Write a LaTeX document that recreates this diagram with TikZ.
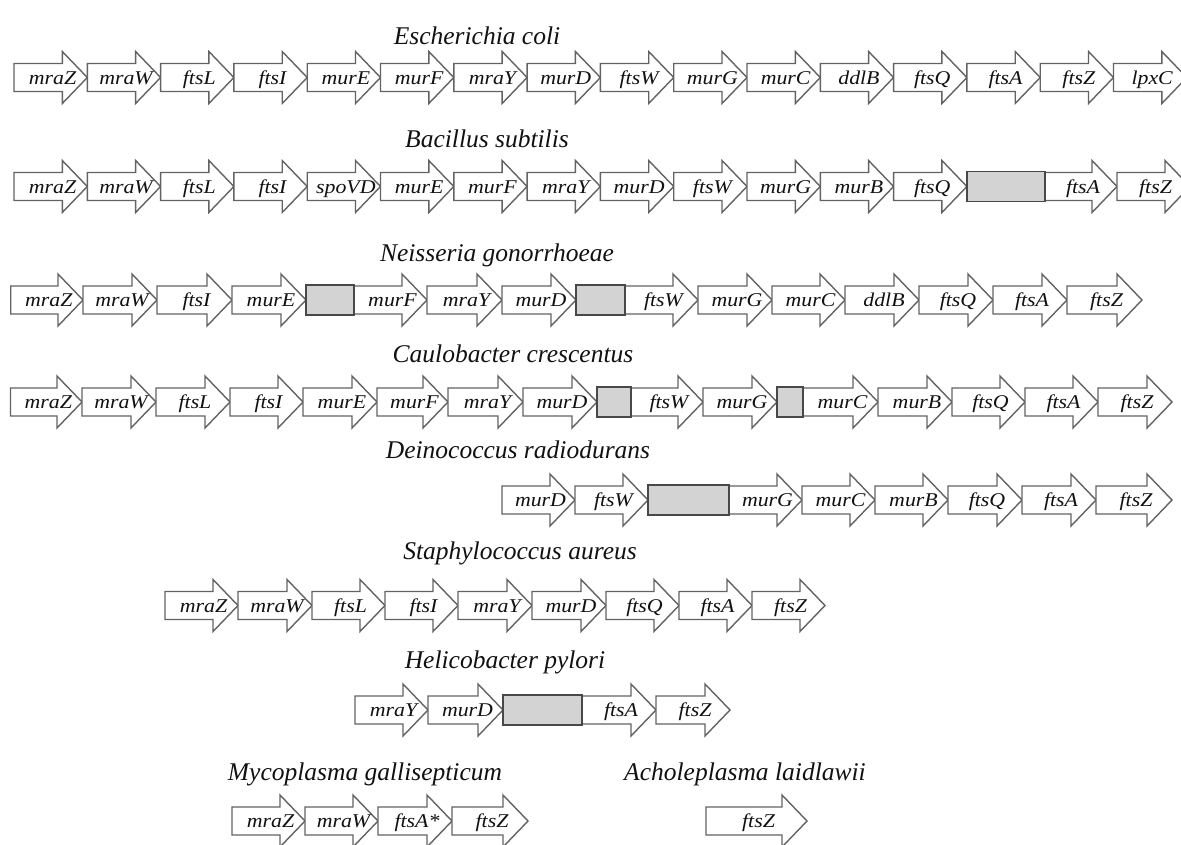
\documentclass[tikz,border=0pt]{standalone}
\usepackage{fontspec}
\setmainfont{Liberation Serif}
\newfontfamily\genefont{Liberation Serif}[FakeStretch=1.12]
\definecolor{arrowline}{HTML}{636363}
\definecolor{boxline}{HTML}{484848}
\definecolor{boxfill}{HTML}{D3D3D3}
\definecolor{inktext}{HTML}{111111}
\newcommand{\genearr}[5]{%
  \draw[genearrow] (#2,#4-14) -- (#3-25,#4-14) -- (#3-25,#4-26) -- (#3,#4)
    -- (#3-25,#4+26) -- (#3-25,#4+14) -- (#2,#4+14) -- cycle;
  \node[genelabel] (#1) at ({(#2+#3)/2+2},#4+6.5) {#5};
}
\newcommand{\grayblk}[4]{%
  \node[graybox, minimum width={(#3-#2)*1pt}, minimum height=30pt] (#1) at ({(#2+#3)/2},#4) {};
}
\begin{document}
\begin{tikzpicture}[x=1pt,y=-1pt,
  genearrow/.style={draw=arrowline, fill=white, line width=1.4pt, line join=miter},
  genelabel/.style={anchor=base, inner sep=0pt, font=\genefont\itshape\fontsize{19.5}{19.5}\selectfont, text=inktext},
  orgtitle/.style={anchor=base, inner sep=0pt, font=\itshape\fontsize{25.5}{25.5}\selectfont, text=inktext},
  graybox/.style={draw=boxline, fill=boxfill, line width=1.5pt, inner sep=0pt, outer sep=0pt}]
\useasboundingbox (0,0) rectangle (1181,844);
\clip (0,0) rectangle (1181,844);

% Escherichia coli
\node[orgtitle] (t1) at (477,44) {Escherichia coli};
\foreach \a/\b/\t [count=\i] in {14/87.3/mraZ,87.3/160.6/mraW,160.6/233.9/ftsL,233.9/307.2/ftsI,307.2/380.5/murE,380.5/453.8/murF,453.8/527.1/mraY,527.1/600.4/murD,600.4/673.7/ftsW,673.7/747/murG,747/820.3/murC,820.3/893.6/ddlB,893.6/966.9/ftsQ,966.9/1040.2/ftsA,1040.2/1113.5/ftsZ,1113.5/1186.8/lpxC}
  {\genearr{ec\i}{\a}{\b}{77.5}{\t}}

% Bacillus subtilis
\node[orgtitle] (t2) at (487,147) {Bacillus subtilis};
\foreach \a/\b/\t [count=\i] in {14/87.3/mraZ,87.3/160.6/mraW,160.6/233.9/ftsL,233.9/307.2/ftsI,307.2/380.5/spoVD,380.5/453.8/murE,453.8/527.1/murF,527.1/600.4/mraY,600.4/673.7/murD,673.7/747/ftsW,747/820.3/murG,820.3/893.6/murB,893.6/966.9/ftsQ,1045/1117/ftsA,1117/1190/ftsZ}
  {\genearr{bs\i}{\a}{\b}{186.5}{\t}}
\grayblk{bsx1}{967}{1045}{186.5}

% Neisseria gonorrhoeae
\node[orgtitle] (t3) at (497,261) {Neisseria gonorrhoeae};
\foreach \a/\b/\t [count=\i] in {10.7/83/mraZ,83/157/mraW,157/232/ftsI,232/306/murE,354/427/murF,427/502/mraY,502/576/murD,625/698/ftsW,698/772/murG,772/845/murC,845/919/ddlB,919/993/ftsQ,993/1067/ftsA,1067/1142/ftsZ}
  {\genearr{ng\i}{\a}{\b}{300}{\t}}
\grayblk{ngx1}{306}{354}{300}
\grayblk{ngx2}{576}{625}{300}

% Caulobacter crescentus
\node[orgtitle] (t4) at (513,362) {Caulobacter crescentus};
\foreach \a/\b/\t [count=\i] in {10.5/82/mraZ,82/156/mraW,156/230/ftsL,230/303/ftsI,303/377/murE,377/448/murF,448/523/mraY,523/597/murD,631/703/ftsW,703/777/murG,803/878/murC,878/952/murB,952/1025/ftsQ,1025/1098/ftsA,1098/1172/ftsZ}
  {\genearr{cc\i}{\a}{\b}{402}{\t}}
\grayblk{ccx1}{597}{631}{402}
\grayblk{ccx2}{777}{803}{402}

% Deinococcus radiodurans
\node[orgtitle] (t5) at (518,458) {Deinococcus radiodurans};
\foreach \a/\b/\t [count=\i] in {502/575/murD,575/648/ftsW,729/802/murG,802/875/murC,875/948/murB,948/1022/ftsQ,1022/1096/ftsA,1096/1172/ftsZ}
  {\genearr{dr\i}{\a}{\b}{500}{\t}}
\grayblk{drx1}{648}{729}{500}

% Staphylococcus aureus
\node[orgtitle] (t6) at (520,559) {Staphylococcus aureus};
\foreach \a/\b/\t [count=\i] in {165/238/mraZ,238/312/mraW,312/385/ftsL,385/458/ftsI,458/532/mraY,532/606/murD,606/679/ftsQ,679/752/ftsA,752/825/ftsZ}
  {\genearr{sa\i}{\a}{\b}{605.5}{\t}}

% Helicobacter pylori
\node[orgtitle] (t7) at (505,668) {Helicobacter pylori};
\foreach \a/\b/\t [count=\i] in {355/428/mraY,428/503/murD,582/656/ftsA,656/730/ftsZ}
  {\genearr{hp\i}{\a}{\b}{710}{\t}}
\grayblk{hpx1}{503}{582}{710}

% Mycoplasma gallisepticum
\node[orgtitle] (t8) at (365,780) {Mycoplasma gallisepticum};
\foreach \a/\b/\t [count=\i] in {232/305/mraZ,305/378/mraW,378/452/ftsA*,452/528/ftsZ}
  {\genearr{mg\i}{\a}{\b}{821}{\t}}

% Acholeplasma laidlawii
\node[orgtitle] (t9) at (745,780) {Acholeplasma laidlawii};
\genearr{al1}{706}{807}{821}{ftsZ}
\end{tikzpicture}
\end{document}
